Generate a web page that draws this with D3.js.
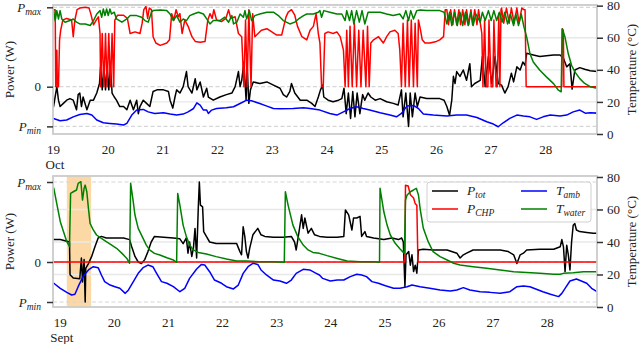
<!DOCTYPE html>
<html><head><meta charset="utf-8">
<script src="https://cdn.jsdelivr.net/npm/d3@7"></script>
<style>body{margin:0;background:#fff}svg{display:block}</style>
</head><body><svg id="c" width="640" height="344"></svg>
<script>
// ---------- data ----------
const dayTicks = [19,20,21,22,23,24,25,26,27,28];
const tempTicks = [0,20,40,60,80];
const powerTicks = [-0.5, 0, 1];
const powerTickNames = ["min", "0", "max"];
const monthNames = ["Oct", "Sept"];
const seriesNames = ["tot", "CHP", "amb", "water"];
const seriesColors = ["#000000", "#ff0000", "#0000ff", "#008000"];
const septBand = [19.13, 19.58];

// October (top) : [day, normalised power] / [day, °C]
const octPtot = [[19.00,-0.22],[19.01,-0.25],[19.07,0],[19.10,-0.17],[19.13,-0.25],[19.19,-0.21],[19.25,-0.17],[19.31,-0.15],[19.37,-0.17],[19.43,-0.29],[19.46,-0.10],[19.49,-0.08],[19.52,-0.25],[19.55,-0.13],[19.62,-0.29],[19.68,-0.17],[19.74,-0.17],[19.80,-0.08],[19.85,0.04],[19.87,0.25],[19.90,-0.04],[19.93,0.25],[19.96,-0.04],[19.99,0.25],[20.02,-0.04],[20.05,0.25],[20.08,-0.08],[20.12,-0.13],[20.16,-0.17],[20.22,-0.25],[20.29,-0.25],[20.35,-0.29],[20.41,-0.17],[20.47,-0.29],[20.53,-0.17],[20.56,-0.34],[20.59,-0.25],[20.65,-0.17],[20.71,-0.21],[20.77,-0.25],[20.83,-0.06],[20.90,-0.04],[21.02,-0.04],[21.11,-0.06],[21.14,-0.17],[21.19,-0.27],[21.23,-0.13],[21.26,-0.04],[21.32,-0.08],[21.38,0],[21.44,0.19],[21.47,0],[21.54,-0.08],[21.60,0.10],[21.63,-0.04],[21.69,0.06],[21.75,-0.13],[21.81,-0.02],[21.84,-0.13],[21.93,-0.17],[22.05,-0.13],[22.17,-0.10],[22.27,-0.08],[22.33,0],[22.39,0.19],[22.42,0],[22.45,0.08],[22.49,0.31],[22.53,-0.17],[22.55,0.25],[22.58,-0.21],[22.61,-0.04],[22.66,0.06],[22.78,0.04],[22.91,0.06],[23.03,0.02],[23.15,-0.02],[23.21,-0.10],[23.27,-0.13],[23.33,-0.06],[23.36,0.04],[23.42,-0.08],[23.52,-0.17],[23.64,-0.17],[23.73,-0.21],[23.79,-0.25],[23.85,-0.13],[23.89,-0.04],[23.93,0.02],[23.95,-0.13],[24.03,-0.17],[24.12,-0.19],[24.22,-0.17],[24.28,-0.15],[24.32,-0.02],[24.36,-0.34],[24.40,-0.08],[24.44,-0.40],[24.48,-0.06],[24.52,-0.38],[24.56,-0.08],[24.61,-0.34],[24.66,-0.10],[24.70,-0.17],[24.76,-0.08],[24.81,-0.13],[24.89,-0.17],[24.98,-0.15],[25.10,-0.19],[25.22,-0.21],[25.31,-0.23],[25.37,-0.04],[25.40,-0.38],[25.45,-0.08],[25.50,-0.50],[25.53,-0.08],[25.57,-0.38],[25.62,-0.08],[25.66,-0.25],[25.71,-0.13],[25.83,-0.15],[25.95,-0.15],[26.07,-0.15],[26.15,-0.17],[26.20,-0.25],[26.25,-0.36],[26.29,-0.17],[26.32,0.13],[26.35,0.04],[26.38,0.19],[26.44,0.13],[26.50,0.21],[26.56,0.08],[26.62,0.29],[26.65,0],[26.71,0.04],[26.81,0.08],[26.85,0.38],[26.90,0],[26.96,0.38],[27.02,0.04],[27.08,0.38],[27.14,0.04],[27.20,0.02],[27.26,-0.08],[27.32,0],[27.38,0.17],[27.42,0.06],[27.48,0.25],[27.54,0.21],[27.59,0.31],[27.63,0.27],[27.66,0.42],[27.78,0.40],[27.90,0.38],[28.02,0.39],[28.15,0.40],[28.27,0.40],[28.33,0.36],[28.39,0.25],[28.45,0.29],[28.49,-0.03],[28.54,0.21],[28.63,0.24],[28.72,0.22],[28.82,0.20],[28.95,0.19]];
const octPchp = [[19.00,0.97],[19.04,0.97],[19.05,0],[19.07,0.46],[19.08,0],[19.10,0],[19.12,0.59],[19.14,0.71],[19.18,0.84],[19.25,0.86],[19.34,0.84],[19.37,0.63],[19.40,0.84],[19.44,0.97],[19.49,0.99],[19.59,1.00],[19.66,0.99],[19.69,0.92],[19.74,0.78],[19.79,0.84],[19.83,0.88],[19.86,0.67],[19.87,0],[19.90,0.67],[19.93,0],[19.96,0.67],[19.99,0],[20.02,0.67],[20.05,0],[20.08,0.67],[20.11,0],[20.13,0.84],[20.18,0.90],[20.29,0.90],[20.36,0.86],[20.41,0.67],[20.50,0.69],[20.59,0.67],[20.63,0.80],[20.66,0.97],[20.70,1.01],[20.73,0.86],[20.76,0.99],[20.80,0.97],[20.83,0.63],[20.88,0.55],[20.96,0.52],[21.08,0.55],[21.13,0.59],[21.17,0.92],[21.21,0.84],[21.25,0.97],[21.29,0.88],[21.32,0.92],[21.36,0.67],[21.41,0.84],[21.47,0.76],[21.54,0.63],[21.60,0.57],[21.69,0.56],[21.78,0.57],[21.83,0.84],[21.87,0.92],[21.91,0.86],[21.94,0.97],[21.99,0.84],[22.08,0.82],[22.16,0.86],[22.21,0.97],[22.25,0.86],[22.33,0.88],[22.39,0.67],[22.45,0.63],[22.49,0],[22.52,0.84],[22.55,0],[22.58,0.97],[22.62,0],[22.65,0.92],[22.69,0.63],[22.75,0.67],[22.81,0.71],[22.91,0.73],[23.00,0.69],[23.09,0.65],[23.18,0.65],[23.26,0.88],[23.30,0.94],[23.36,0.97],[23.42,0.90],[23.47,0.76],[23.55,0.63],[23.64,0.59],[23.70,0.71],[23.76,0.76],[23.81,0.92],[23.85,0.67],[23.88,0.55],[23.91,0],[23.94,0],[23.97,0.67],[24.03,0.69],[24.12,0.67],[24.19,0.69],[24.25,0.63],[24.31,0.46],[24.34,0],[24.37,0.71],[24.40,0],[24.43,0.76],[24.47,0],[24.51,0.80],[24.55,0],[24.59,0.71],[24.63,0],[24.67,0.71],[24.72,0],[24.75,0.76],[24.78,0],[24.81,0.55],[24.86,0.59],[24.95,0.63],[25.04,0.55],[25.10,0.63],[25.16,0.69],[25.25,0.71],[25.31,0.67],[25.34,0.46],[25.37,0],[25.40,0.80],[25.44,0],[25.48,0.84],[25.51,0],[25.55,0.84],[25.59,0],[25.62,0.80],[25.66,0],[25.68,0.84],[25.72,0.71],[25.75,0.59],[25.80,0.55],[25.89,0.55],[26.01,0.57],[26.07,0.59],[26.14,0.63],[26.17,0.97],[26.20,0.97],[26.23,0.78],[26.27,0.97],[26.31,0.78],[26.34,0.97],[26.38,0.78],[26.42,0.97],[26.45,0.78],[26.49,0.97],[26.53,0.78],[26.56,0.97],[26.60,0.78],[26.64,0.97],[26.67,0.78],[26.71,0.97],[26.75,0.78],[26.78,0.97],[26.82,0.76],[26.84,0.67],[26.86,0],[26.89,0.84],[26.92,0],[26.95,0],[26.97,0.84],[27.01,0],[27.04,0],[27.06,0.84],[27.10,0],[27.12,0],[27.15,0.92],[27.17,0],[27.19,0.97],[27.20,0.99],[27.24,0.80],[27.29,0.99],[27.34,0.80],[27.38,0.99],[27.43,0.80],[27.48,0.99],[27.52,0.80],[27.57,0.99],[27.61,0.97],[27.63,0.97],[27.65,0],[28.30,0],[28.31,0.73],[28.33,0.71],[28.34,0],[28.95,0]];
const octTamb = [[19.00,9.9],[19.01,9.7],[19.13,8.3],[19.25,8.7],[19.37,10.7],[19.49,12.2],[19.62,12.8],[19.71,11.8],[19.80,8.7],[19.92,7.0],[20.04,6.6],[20.16,6.2],[20.29,5.6],[20.35,6.6],[20.44,11.8],[20.53,14.9],[20.65,15.3],[20.74,13.8],[20.86,12.8],[21.02,13.2],[21.14,12.4],[21.26,11.8],[21.38,12.4],[21.47,13.8],[21.57,15.9],[21.63,19.4],[21.69,18.0],[21.75,14.9],[21.81,14.9],[21.84,12.8],[21.90,14.9],[21.99,15.9],[22.17,16.3],[22.30,17.0],[22.42,19.0],[22.54,21.1],[22.63,20.7],[22.78,19.0],[22.91,17.4],[23.03,15.9],[23.15,15.7],[23.39,15.9],[23.58,16.3],[23.70,15.9],[23.88,14.9],[24.06,12.8],[24.19,11.8],[24.31,13.8],[24.43,15.9],[24.55,17.0],[24.67,15.9],[24.79,14.9],[24.98,13.2],[25.16,11.8],[25.28,10.7],[25.37,12.8],[25.47,17.4],[25.59,17.8],[25.68,15.9],[25.77,12.4],[25.95,11.8],[26.20,11.2],[26.38,11.8],[26.56,11.8],[26.75,10.3],[26.93,7.6],[27.05,6.2],[27.14,4.5],[27.23,7.0],[27.35,9.7],[27.48,11.8],[27.60,11.2],[27.72,10.7],[27.84,9.1],[27.96,10.7],[28.09,11.8],[28.27,11.2],[28.39,11.8],[28.51,13.8],[28.63,14.9],[28.73,13.0],[28.82,13.3],[28.95,13.0]];
const octTwater = [[19.00,76.9],[19.01,76.9],[19.04,70.7],[19.07,76.9],[19.10,71.7],[19.13,76.9],[19.16,71.7],[19.22,69.7],[19.31,70.7],[19.37,71.7],[19.43,69.7],[19.49,68.6],[19.59,68.6],[19.68,67.6],[19.74,70.7],[19.80,74.8],[19.86,76.9],[19.89,72.8],[19.92,77.9],[19.95,73.8],[19.98,77.9],[20.01,73.8],[20.04,77.9],[20.07,74.8],[20.12,75.9],[20.16,71.7],[20.26,69.7],[20.35,71.7],[20.41,73.8],[20.53,73.8],[20.62,72.8],[20.68,70.7],[20.74,69.7],[20.80,75.9],[20.83,76.9],[20.96,77.3],[21.08,76.9],[21.14,74.8],[21.20,70.7],[21.26,73.8],[21.32,69.7],[21.38,71.7],[21.44,70.7],[21.50,73.8],[21.57,74.8],[21.66,75.9],[21.75,74.8],[21.81,71.7],[21.87,68.6],[21.93,70.7],[22.05,70.7],[22.14,72.8],[22.21,69.7],[22.27,73.8],[22.30,68.6],[22.36,69.7],[22.42,74.8],[22.48,72.8],[22.51,76.9],[22.54,71.7],[22.59,76.9],[22.63,70.7],[22.69,73.8],[22.78,74.8],[22.91,75.9],[23.03,75.9],[23.12,73.8],[23.21,70.7],[23.33,68.6],[23.42,69.7],[23.49,71.7],[23.58,73.8],[23.64,74.8],[23.76,74.8],[23.85,75.9],[23.88,76.9],[23.91,72.8],[23.95,76.9],[24.06,75.9],[24.19,74.8],[24.28,74.8],[24.34,70.7],[24.37,76.9],[24.42,70.7],[24.46,76.9],[24.50,68.6],[24.55,76.9],[24.60,69.7],[24.65,76.9],[24.70,68.6],[24.76,75.9],[24.83,75.9],[24.98,75.9],[25.10,74.8],[25.22,73.8],[25.34,74.8],[25.40,71.7],[25.45,76.9],[25.50,70.7],[25.54,76.9],[25.59,71.7],[25.65,76.9],[25.71,77.3],[25.83,76.9],[25.95,76.9],[26.07,76.9],[26.15,75.9],[26.20,68.6],[26.25,75.9],[26.29,67.6],[26.34,75.9],[26.39,67.6],[26.44,75.9],[26.49,67.6],[26.54,75.9],[26.59,67.6],[26.64,75.9],[26.68,67.6],[26.73,74.8],[26.81,69.7],[26.85,75.9],[26.90,70.7],[26.96,76.9],[27.01,70.7],[27.06,76.9],[27.11,70.7],[27.16,75.9],[27.21,69.7],[27.26,75.9],[27.31,68.6],[27.36,74.8],[27.42,67.6],[27.46,74.8],[27.51,67.6],[27.56,74.8],[27.61,66.6],[27.66,60.4],[27.72,50.0],[27.78,44.9],[27.90,39.7],[28.02,35.6],[28.15,31.4],[28.24,27.3],[28.29,26.3],[28.31,65.5],[28.36,60.4],[28.42,50.0],[28.48,42.8],[28.54,38.7],[28.63,34.5],[28.72,31.5],[28.82,29.5],[28.95,28.5]];

// September (bottom)
const septPtot = [[18.875,0.28],[19.01,0.28],[19.13,0.26],[19.18,0.25],[19.19,-0.16],[19.25,-0.20],[19.37,-0.21],[19.40,0.05],[19.42,-0.25],[19.45,0.03],[19.47,-0.50],[19.48,-0.08],[19.53,-0.02],[19.59,0.07],[19.65,0.19],[19.71,0.30],[19.77,0.32],[19.86,0.30],[19.99,0.30],[20.18,0.30],[20.29,0.28],[20.33,0.19],[20.39,0.07],[20.45,0],[20.51,-0.02],[20.57,0.03],[20.63,0.13],[20.69,0.25],[20.75,0.32],[20.92,0.31],[21.10,0.30],[21.22,0.29],[21.28,0.23],[21.34,0.30],[21.37,0.11],[21.40,0.25],[21.44,0.07],[21.47,0.17],[21.50,0.42],[21.53,0.05],[21.56,0.67],[21.58,1.00],[21.60,0.71],[21.64,0.69],[21.66,0.38],[21.71,0.32],[21.77,0.25],[21.89,0.23],[22.08,0.23],[22.27,0.23],[22.33,0.13],[22.36,0.09],[22.39,0.44],[22.42,0.32],[22.45,0.13],[22.48,0.05],[22.51,0.17],[22.57,0.34],[22.66,0.42],[22.72,0.34],[22.79,0.32],[22.95,0.31],[23.13,0.31],[23.28,0.32],[23.34,0.25],[23.37,0.15],[23.40,0.28],[23.47,0.59],[23.50,0.42],[23.53,0.55],[23.59,0.36],[23.65,0.42],[23.71,0.34],[23.80,0.32],[23.94,0.31],[24.13,0.31],[24.25,0.32],[24.28,0.65],[24.34,0.59],[24.40,0.40],[24.43,0.55],[24.49,0.55],[24.55,0.57],[24.58,0.32],[24.64,0.38],[24.67,0.32],[24.80,0.30],[24.99,0.28],[25.14,0.30],[25.26,0.28],[25.32,0.30],[25.35,0.25],[25.38,-0.31],[25.40,0.09],[25.45,0.13],[25.48,-0.04],[25.51,0.09],[25.54,-0.12],[25.57,-0.04],[25.60,-0.14],[25.63,0.15],[25.72,0.16],[25.90,0.15],[26.16,0.15],[26.34,0.11],[26.40,0.05],[26.46,0.09],[26.52,0.11],[26.64,0.15],[26.89,0.15],[27.14,0.15],[27.29,0.13],[27.39,0.09],[27.45,-0.02],[27.51,0.09],[27.57,0.11],[27.63,0.15],[27.87,0.16],[28.13,0.16],[28.25,0.19],[28.28,0.28],[28.31,0.19],[28.34,-0.12],[28.37,0.21],[28.40,0.09],[28.43,-0.10],[28.46,0.25],[28.49,0.46],[28.52,0.48],[28.55,0.40],[28.61,0.38],[28.74,0.37],[28.86,0.36],[28.93,0.36]];
const septPchp = [[18.875,0],[25.38,0],[25.39,0.96],[25.44,0.95],[25.48,0.84],[25.54,0.80],[25.57,0.73],[25.60,0.71],[25.62,0],[28.93,0]];
const septTamb = [[18.875,14.8],[18.89,14.6],[19.01,11.5],[19.13,9.0],[19.22,7.4],[19.28,7.8],[19.34,12.5],[19.43,18.7],[19.53,22.8],[19.62,24.8],[19.71,24.2],[19.77,19.7],[19.83,15.6],[19.93,13.5],[20.02,12.5],[20.11,11.5],[20.21,8.4],[20.27,10.5],[20.36,15.6],[20.45,20.7],[20.54,24.2],[20.63,25.8],[20.72,24.8],[20.79,20.7],[20.88,15.6],[20.98,14.6],[21.10,12.5],[21.22,9.4],[21.31,11.5],[21.40,17.6],[21.53,23.4],[21.62,26.2],[21.68,25.8],[21.77,21.7],[21.86,16.6],[21.99,14.6],[22.08,12.5],[22.21,11.1],[22.30,13.5],[22.39,20.7],[22.48,24.8],[22.57,26.9],[22.66,26.2],[22.72,22.8],[22.82,19.7],[22.95,16.6],[23.07,16.0],[23.19,14.6],[23.28,16.6],[23.37,20.7],[23.50,23.2],[23.62,22.8],[23.74,20.7],[23.80,19.7],[23.86,17.6],[24.00,16.0],[24.13,16.6],[24.25,16.6],[24.37,18.7],[24.49,20.1],[24.58,19.7],[24.67,18.7],[24.77,15.6],[24.89,14.6],[25.02,13.1],[25.17,11.5],[25.29,11.5],[25.42,12.5],[25.51,13.5],[25.66,12.5],[25.84,11.5],[26.03,10.5],[26.22,9.8],[26.34,10.5],[26.46,11.9],[26.58,10.5],[26.77,9.4],[26.95,9.0],[27.14,8.4],[27.32,9.4],[27.45,12.5],[27.57,12.9],[27.69,12.5],[27.81,10.9],[27.93,9.4],[28.07,7.8],[28.22,6.4],[28.28,8.4],[28.34,11.5],[28.43,16.0],[28.55,17.2],[28.64,16.0],[28.74,14.6],[28.83,11.5],[28.93,9.4]];
const septTwater = [[18.875,73.5],[18.89,73.0],[18.95,62.7],[19.01,52.5],[19.07,46.3],[19.13,40.2],[19.18,37.1],[19.20,69.9],[19.25,70.9],[19.31,72.0],[19.34,76.1],[19.39,77.1],[19.42,65.8],[19.45,73.0],[19.47,75.0],[19.50,70.9],[19.53,60.7],[19.56,51.5],[19.62,47.4],[19.68,44.3],[19.77,42.2],[19.86,40.2],[19.96,38.1],[20.05,36.1],[20.15,33.0],[20.24,29.9],[20.29,26.9],[20.31,76.1],[20.35,66.8],[20.39,56.6],[20.45,48.4],[20.54,42.2],[20.60,38.1],[20.66,35.1],[20.75,33.0],[20.85,32.0],[20.98,30.3],[21.10,28.9],[21.16,27.5],[21.18,69.9],[21.22,62.7],[21.28,50.4],[21.34,43.3],[21.40,38.1],[21.47,35.1],[21.56,33.6],[21.71,32.6],[21.89,31.0],[22.08,29.5],[22.27,28.3],[22.45,28.3],[22.69,27.9],[22.95,27.9],[23.15,27.5],[23.17,70.9],[23.22,62.7],[23.31,50.4],[23.40,43.3],[23.50,38.1],[23.59,35.1],[23.68,33.6],[23.80,33.0],[23.94,31.6],[24.13,29.9],[24.31,28.3],[24.55,27.9],[24.80,27.9],[24.91,27.5],[24.92,73.0],[24.99,58.6],[25.05,50.4],[25.11,44.3],[25.20,39.2],[25.29,35.7],[25.37,33.0],[25.39,65.8],[25.42,68.9],[25.48,70.9],[25.54,72.0],[25.59,73.0],[25.63,68.9],[25.66,60.7],[25.72,48.4],[25.81,40.2],[25.90,34.0],[26.03,31.0],[26.16,28.9],[26.28,26.9],[26.40,25.8],[26.64,24.8],[26.89,23.8],[27.14,22.8],[27.39,21.7],[27.63,21.3],[27.87,20.7],[28.13,20.1],[28.25,20.1],[28.31,20.7],[28.49,21.1],[28.68,21.7],[28.93,21.7]];

// ---------- drawing ----------
const FONT = '"Liberation Serif", "Times New Roman", "DejaVu Serif", serif';
const X0 = 53, X1 = 597;
const svg = d3.select("#c");
const defs = svg.append("defs");

const panels = [
  {top:5, bottom:134, xDomain:[19,28.945], pDomain:[-0.596,1.029], tDomain:[0,80.4], month:monthNames[0],
   data:[octPtot, octPchp, octTamb, octTwater], band:null, legend:false},
  {top:176, bottom:307, xDomain:[18.875,28.93], pDomain:[-0.5625,1.075], tDomain:[0,80.6], month:monthNames[1],
   data:[septPtot, septPchp, septTamb, septTwater], band:septBand, legend:true}
];

function txt(sel, size){
  return sel.style("font-family", FONT).attr("font-size", size).style("fill", "#222");
}
function subLabel(sel, main, sub, mainSize, subSize, shift){
  sel.text(null);
  sel.append("tspan").attr("font-style","italic").attr("font-size",mainSize).text(main);
  sel.append("tspan").attr("font-style","italic").attr("font-size",subSize).attr("dy",shift).text(sub);
}

panels.forEach((p,i)=>{
  const x = d3.scaleLinear().domain(p.xDomain).range([X0,X1]);
  const yP = d3.scaleLinear().domain(p.pDomain).range([p.bottom,p.top]);
  const yT = d3.scaleLinear().domain(p.tDomain).range([p.bottom,p.top]);
  const g = svg.append("g");
  const cid = "clip"+i;
  defs.append("clipPath").attr("id",cid).append("rect")
    .attr("x",X0).attr("y",p.top).attr("width",X1-X0).attr("height",p.bottom-p.top);

  if(p.band){
    g.append("rect").attr("x",x(p.band[0])).attr("y",p.top)
      .attr("width",x(p.band[1])-x(p.band[0])).attr("height",p.bottom-p.top)
      .attr("fill","#fcd9a4");
  }
  tempTicks.filter(t=>t>0 && t<80).forEach(t=>{
    g.append("line").attr("x1",X0).attr("x2",X1).attr("y1",yT(t)).attr("y2",yT(t))
      .attr("stroke","#e8e8e8").attr("stroke-width",1.3);
  });
  powerTicks.forEach(v=>{
    g.append("line").attr("x1",X0).attr("x2",X1).attr("y1",yP(v)).attr("y2",yP(v))
      .attr("stroke","#d6d6d6").attr("stroke-width",1.2).attr("stroke-dasharray","4,2.5");
  });

  const lineP = d3.line().x(d=>x(d[0])).y(d=>yP(d[1]));
  const lineT = d3.line().x(d=>x(d[0])).y(d=>yT(d[1]));
  const lg = g.append("g").attr("clip-path",`url(#${cid})`);
  [0,1].forEach(k=>lg.append("path").attr("d",lineP(p.data[k])).attr("fill","none")
      .attr("stroke",seriesColors[k]).attr("stroke-width",1.5).attr("stroke-linejoin","round"));
  [2,3].forEach(k=>lg.append("path").attr("d",lineT(p.data[k])).attr("fill","none")
      .attr("stroke",seriesColors[k]).attr("stroke-width",1.5).attr("stroke-linejoin","round"));

  g.append("rect").attr("x",X0).attr("y",p.top).attr("width",X1-X0).attr("height",p.bottom-p.top)
    .attr("fill","none").attr("stroke","#cbcbcb").attr("stroke-width",1.8);

  // left axis
  const ax = g.append("g").attr("transform",`translate(${X0},0)`)
    .call(d3.axisLeft(yP).tickValues(powerTicks).tickSize(6).tickPadding(6));
  ax.select(".domain").remove();
  ax.selectAll(".tick line").attr("stroke","#333").attr("stroke-width",1.5);
  ax.selectAll(".tick text").each(function(d,j){
    const t = txt(d3.select(this), 13);
    if(powerTickNames[j]==="0"){ t.text("0"); }
    else subLabel(t,"P",powerTickNames[j],13,9.5,3);
  });
  // right axis
  const ar = g.append("g").attr("transform",`translate(${X1},0)`)
    .call(d3.axisRight(yT).tickValues(tempTicks).tickSize(6).tickPadding(4));
  ar.select(".domain").remove();
  ar.selectAll(".tick line").attr("stroke","#333").attr("stroke-width",1.5);
  txt(ar.selectAll(".tick text"), 13);
  // bottom axis
  const ab = g.append("g").attr("transform",`translate(0,${p.bottom})`)
    .call(d3.axisBottom(x).tickValues(dayTicks).tickSize(0).tickPadding(11).tickFormat(d3.format("d")));
  ab.select(".domain").remove();
  txt(ab.selectAll(".tick text"), 13);
  txt(g.append("text").attr("x",x(19)+2).attr("y",p.bottom+35).attr("text-anchor","middle"),13).text(p.month);

  const mid = (p.top+p.bottom)/2;
  txt(g.append("text").attr("transform",`translate(14,${mid}) rotate(-90)`).attr("text-anchor","middle"),13)
    .text("Power (W)");
  txt(g.append("text").attr("transform",`translate(636,${mid}) rotate(-90)`).attr("text-anchor","middle"),13)
    .text("Temperature (°C)");

  if(p.legend){
    const L = g.append("g");
    L.append("rect").attr("x",427).attr("y",182).attr("width",164).attr("height",40)
      .attr("rx",3).attr("fill","#fff").attr("fill-opacity",0.9).attr("stroke","#d0d0d0").attr("stroke-width",1);
    const pos = [[432,191],[432,209],[521,191],[521,209]];
    const mains = ["P","P","T","T"];
    seriesNames.forEach((n,k)=>{
      const [lx,ly] = pos[k];
      L.append("line").attr("x1",lx).attr("x2",lx+26).attr("y1",ly).attr("y2",ly)
        .attr("stroke",seriesColors[k]).attr("stroke-width",1.5);
      const t = txt(L.append("text").attr("x",lx+35).attr("y",ly+4), 13.5);
      subLabel(t,mains[k],n,13.5,9.5,3);
    });
  }
});
</script>
</body></html>
